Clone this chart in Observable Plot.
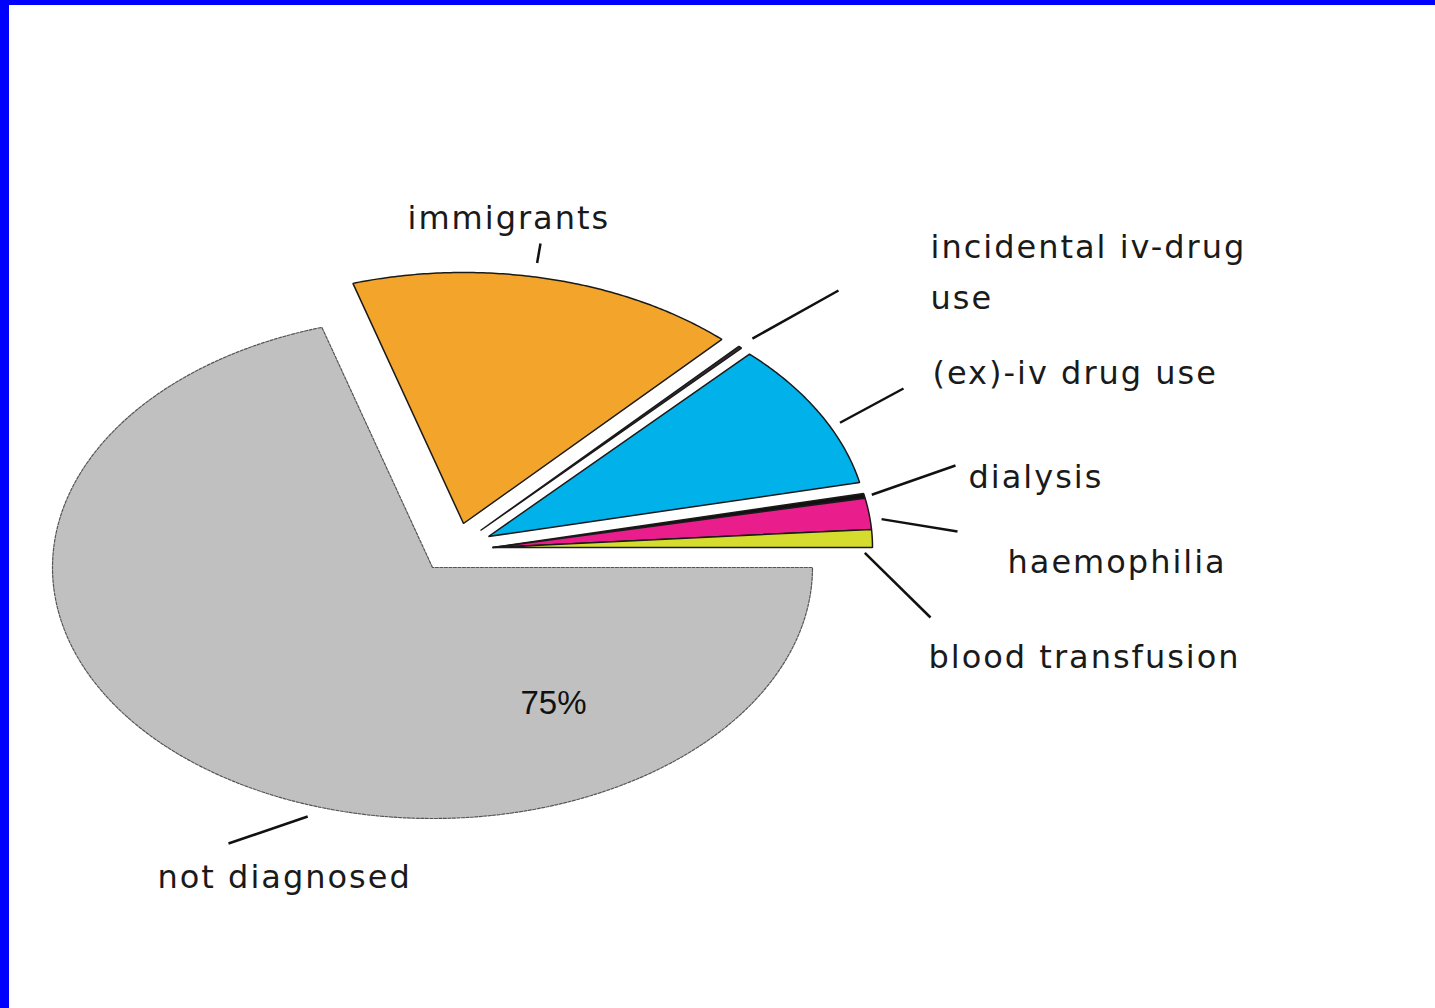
<!DOCTYPE html>
<html>
<head>
<meta charset="utf-8">
<script src="https://cdn.jsdelivr.net/npm/d3@7"></script>
<script src="https://cdn.jsdelivr.net/npm/@observablehq/plot@0.6"></script>
<style>
  html, body { margin: 0; padding: 0; background: #fff; overflow: hidden; }
  #wrap { position: relative; width: 1435px; height: 1008px; }
  #chart { position: absolute; left: 0; top: 0; }
  .bt { position: absolute; left: 0; top: 0; width: 1435px; height: 5px; background: #0000ff; }
  .bl { position: absolute; left: 0; top: 0; width: 9px; height: 1008px; background: #0000ff; }
</style>
</head>
<body>
<div id="wrap"><div id="chart"></div><div class="bt"></div><div class="bl"></div></div>
<script>
// ---- data ----
const categories = ["not diagnosed", "immigrants", "incidental iv-drug use", "(ex)-iv drug use", "dialysis", "haemophilia", "blood transfusion"];
const labelTexts = ["not diagnosed", "immigrants", "incidental iv-drug\nuse", "(ex)-iv drug use", "dialysis", "haemophilia", "blood transfusion"];
const shares = [70.3, 16.6, 0.15, 9.5, 0.3, 2.0, 1.15];
const pctLabels = ["75%"];

// ---- styles / layout ----
const colors = ["#c0c0c0", "#f3a52b", "#3a2c3a", "#00b1ea", "#111111", "#e91e8c", "#d5dc2e"];
const W = 1435, H = 1008, CX = 432, CY = 567, RX = 380, RY = 251;
const ux = px => (px - CX) / RX;
const uy = py => (CY - py) / RY;
// explode offsets (pixels) of each slice
const explode = [[0, 0], [31, -44], [48, -37], [56, -31], [60, -20], [60, -20], [60, -20]];
// label anchor (left, baseline) in pixels
const labelPos = [[157, 887], [407, 228], [930, 308], [932, 383], [968, 487], [1007, 572], [928, 667]];
// leader: fraction within the slice, radius, end point (px)
const leaderAt = [0.572, 0.54, 0.5, 0.4, 0.5, 0.3, -0.3];
const leaderR = [1.045, 1.056, 1.047, 1.03, 1.02, 1.03, 0.98];
const leaderEnd = [[228, 843], [540, 243], [838, 290], [903, 388], [955, 465], [957, 531], [930, 617]];

const total = d3.sum(shares);
const slices = [];
let a = 0;
for (let i = categories.length - 1; i >= 0; i--) {
  const span = shares[i] / total * 2 * Math.PI;
  const a0 = a, a1 = a + span;
  a = a1;
  const ox = explode[i][0] / RX, oy = -explode[i][1] / RY;
  const n = Math.max(2, Math.ceil((span * 180 / Math.PI) / 0.5));
  const pts = [{x: ox, y: oy}];
  for (let k = 0; k <= n; k++) {
    const t = a0 + (a1 - a0) * k / n;
    pts.push({x: ox + Math.cos(t), y: oy + Math.sin(t)});
  }
  slices[i] = {name: categories[i], a0, a1, ox, oy, pts, color: colors[i]};
}

const leaders = slices.map((s, i) => {
  const t = s.a0 + (s.a1 - s.a0) * leaderAt[i];
  return {x1: s.ox + leaderR[i] * Math.cos(t), y1: s.oy + leaderR[i] * Math.sin(t),
          x2: ux(leaderEnd[i][0]), y2: uy(leaderEnd[i][1])};
});

const labels = labelTexts.map((t, i) => ({text: t, x: ux(labelPos[i][0]), y: uy(labelPos[i][1])}));
const pct = [{text: pctLabels[0], x: ux(553), y: uy(713)}];

const sliceMarks = slices.map((s, i) => Plot.line(s.pts, {
  x: "x", y: "y", curve: "linear-closed",
  fill: s.color,
  stroke: i === 0 ? "#555" : "#1a1a1a",
  strokeWidth: i === 0 ? 1.2 : 1.5,
  strokeDasharray: i === 0 ? "3 1.5" : null,
  strokeLinejoin: "miter"
}));

const chart = Plot.plot({
  width: W, height: H,
  marginTop: 0, marginRight: 0, marginBottom: 0, marginLeft: 0,
  x: {domain: [ux(0), ux(W)], axis: null},
  y: {domain: [uy(H), uy(0)], axis: null},
  style: {background: "#fff"},
  marks: [
    ...sliceMarks,
    Plot.link(leaders, {x1: "x1", y1: "y1", x2: "x2", y2: "y2", stroke: "#111", strokeWidth: 2.5}),
    Plot.text(labels, {x: "x", y: "y", text: "text", textAnchor: "start", lineAnchor: "bottom",
      fontSize: 32, fontFamily: "DejaVu Sans", lineHeight: 1.59, fill: "#1a1a1a"}),
    Plot.text(pct, {x: "x", y: "y", text: "text", textAnchor: "middle", lineAnchor: "bottom",
      fontSize: 33, fontFamily: "Liberation Sans", fill: "#111"})
  ]
});
d3.select(chart).selectAll("text").each(function() {
  if (this.textContent !== pctLabels[0]) this.setAttribute("letter-spacing", "2");
});
document.getElementById("chart").appendChild(chart);
</script>
</body>
</html>
